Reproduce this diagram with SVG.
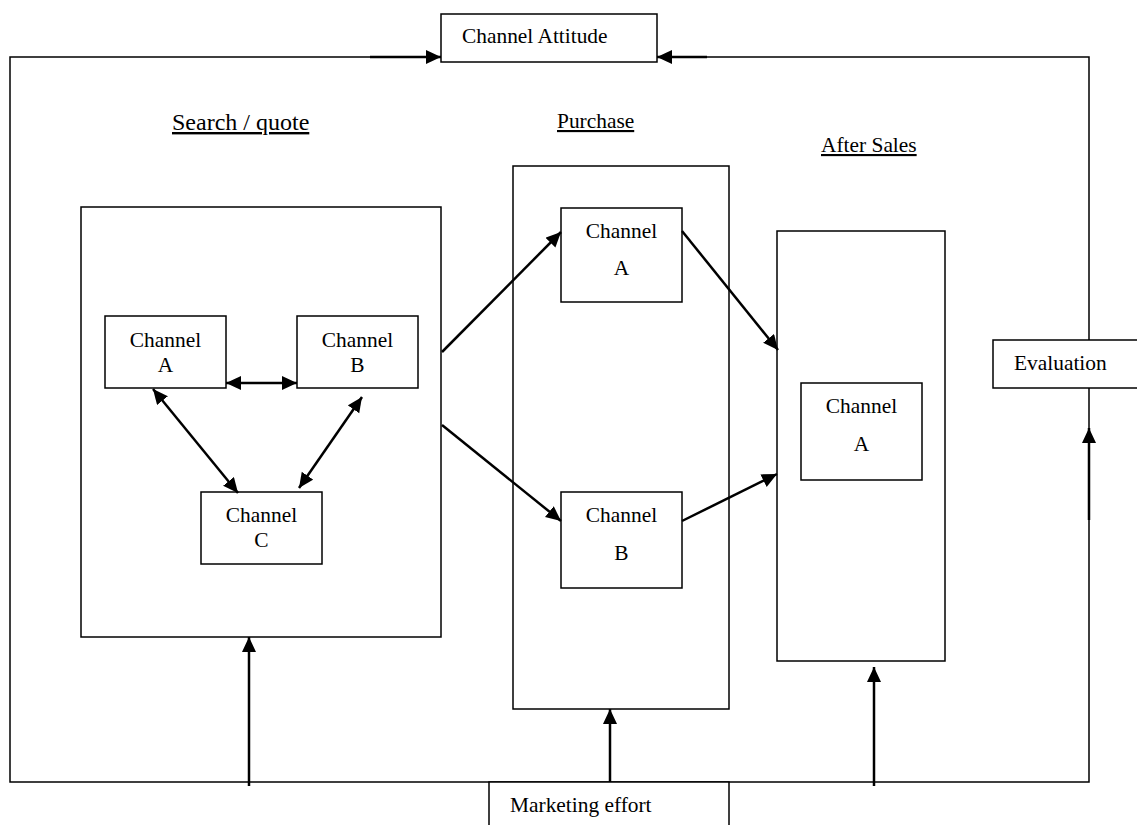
<svg xmlns="http://www.w3.org/2000/svg" width="1137" height="825" viewBox="0 0 1137 825">
<style>
text{font-family:"Liberation Serif","Times New Roman",serif;font-size:21.4px;fill:#000}
.h{text-decoration:underline}
.box{fill:#fff;stroke:#000;stroke-width:1.5}
.frame{fill:none;stroke:#000;stroke-width:1.5}
.arr{fill:none;stroke:#000;stroke-width:2.5;marker-end:url(#ah)}
.dbl{fill:none;stroke:#000;stroke-width:2.5;marker-end:url(#ah);marker-start:url(#ah)}
.c{text-anchor:middle}
</style>
<defs>
<marker id="ah" markerUnits="userSpaceOnUse" markerWidth="16" markerHeight="15" refX="15" refY="7" orient="auto-start-reverse" viewBox="0 0 16 15">
<path d="M0,0 L15,7 L0,14 z" fill="#000"/>
</marker>
</defs>
<rect x="0" y="0" width="1137" height="825" fill="#fff"/>

<g id="frame">
<path class="frame" d="M441,57 H10 V782 H1089 V57 H657"/>
</g>

<g id="headings">
<text class="h" x="172" y="130" style="font-size:24px">Search / quote</text>
<text class="h" x="557" y="128">Purchase</text>
<text class="h" x="821" y="152">After Sales</text>
</g>

<g id="search-stage"><rect class="box" x="81" y="207" width="360" height="430"/></g>
<g id="purchase-stage"><rect class="box" x="513" y="166" width="216" height="543"/></g>
<g id="aftersales-stage"><rect class="box" x="777" y="231" width="168" height="430"/></g>

<g id="channel-attitude"><rect class="box" x="441" y="14" width="216" height="48"/><text x="462" y="43">Channel Attitude</text></g>
<g id="evaluation"><rect class="box" x="993" y="340" width="160" height="48"/><text x="1014" y="370">Evaluation</text></g>
<g id="marketing-effort"><rect class="box" x="489" y="782" width="240" height="60"/><text x="510" y="812">Marketing effort</text></g>

<g id="search-channel-a"><rect class="box" x="105" y="316" width="121" height="72"/><text class="c" x="165.5" y="347">Channel</text><text class="c" x="165.5" y="372">A</text></g>
<g id="search-channel-b"><rect class="box" x="297" y="316" width="121" height="72"/><text class="c" x="357.5" y="347">Channel</text><text class="c" x="357.5" y="372">B</text></g>
<g id="search-channel-c"><rect class="box" x="201" y="492" width="121" height="72"/><text class="c" x="261.5" y="522">Channel</text><text class="c" x="261.5" y="547">C</text></g>

<g id="purchase-channel-a"><rect class="box" x="561" y="208" width="121" height="94"/><text class="c" x="621.5" y="238">Channel</text><text class="c" x="621.5" y="275">A</text></g>
<g id="purchase-channel-b"><rect class="box" x="561" y="492" width="121" height="96"/><text class="c" x="621.5" y="522">Channel</text><text class="c" x="621.5" y="560">B</text></g>

<g id="aftersales-channel-a"><rect class="box" x="801" y="383" width="121" height="97"/><text class="c" x="861.5" y="413">Channel</text><text class="c" x="861.5" y="451">A</text></g>

<g id="connectors">
<path class="arr" d="M370,57 H441"/>
<path class="arr" d="M707,57 H657"/>
<path class="dbl" d="M226,383 H297"/>
<path class="dbl" d="M153,389 L238,493"/>
<path class="dbl" d="M362,397 L299,488"/>
<path class="arr" d="M442,352 L561,232"/>
<path class="arr" d="M442,425 L561,521"/>
<path class="arr" d="M682,231 L778,350"/>
<path class="arr" d="M682,521 L777,474"/>
<path class="arr" d="M249,786 V637"/>
<path class="arr" d="M610,782 V709"/>
<path class="arr" d="M874,786 V667"/>
<path class="arr" d="M1089,520 V428"/>
</g>
</svg>
